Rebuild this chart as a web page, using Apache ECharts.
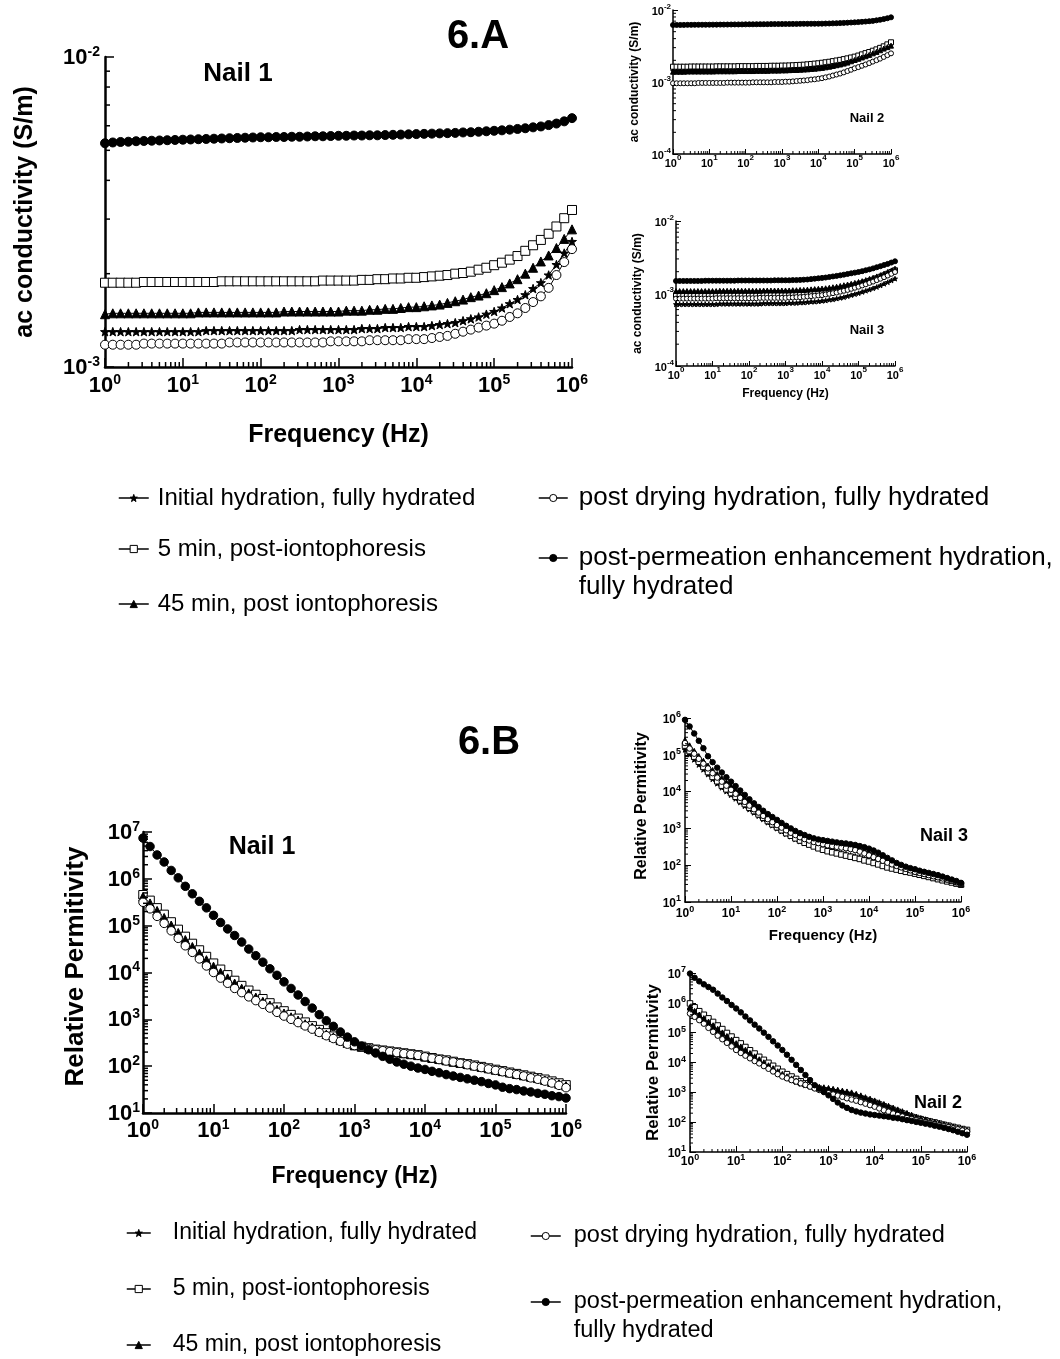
<!DOCTYPE html>
<html><head><meta charset="utf-8">
<script src="https://cdn.jsdelivr.net/npm/echarts@6/dist/echarts.min.js"></script>
<style>html,body{margin:0;padding:0;background:#fff}#c{width:1060px;height:1359px}</style>
</head><body><div id="c"></div>
<script>
// ---------- frequencies (Hz), 10 points per decade ----------
const freq = [1,1.259,1.585,1.995,2.512,3.162,3.981,5.012,6.310,7.943,
10,12.59,15.85,19.95,25.12,31.62,39.81,50.12,63.10,79.43,
100,125.9,158.5,199.5,251.2,316.2,398.1,501.2,631.0,794.3,
1000,1259,1585,1995,2512,3162,3981,5012,6310,7943,
10000,12589,15849,19953,25119,31623,39811,50119,63096,79433,
100000,125893,158489,199526,251189,316228,398107,501187,630957,794328,1000000];

const seriesNames = ['Initial hydration, fully hydrated','5 min, post-iontophoresis','45 min, post iontophoresis','post drying hydration, fully hydrated','post-permeation enhancement hydration, fully hydrated'];

// ---------- 6.A  ac conductivity (S/m) ----------
// Nail 1
const a1Star = [1.30e-3,1.30e-3,1.30e-3,1.30e-3,1.30e-3,1.30e-3,1.30e-3,1.30e-3,1.30e-3,1.30e-3,
1.30e-3,1.30e-3,1.30e-3,1.31e-3,1.31e-3,1.31e-3,1.31e-3,1.31e-3,1.31e-3,1.31e-3,
1.31e-3,1.31e-3,1.31e-3,1.31e-3,1.31e-3,1.32e-3,1.32e-3,1.32e-3,1.32e-3,1.32e-3,
1.32e-3,1.32e-3,1.32e-3,1.33e-3,1.33e-3,1.33e-3,1.34e-3,1.34e-3,1.34e-3,1.35e-3,
1.35e-3,1.35e-3,1.36e-3,1.37e-3,1.38e-3,1.39e-3,1.41e-3,1.43e-3,1.45e-3,1.48e-3,
1.51e-3,1.55e-3,1.60e-3,1.65e-3,1.71e-3,1.79e-3,1.87e-3,1.98e-3,2.14e-3,2.33e-3,2.54e-3];
const a1Square = [1.87e-3,1.87e-3,1.87e-3,1.87e-3,1.87e-3,1.88e-3,1.88e-3,1.88e-3,1.88e-3,1.88e-3,
1.88e-3,1.88e-3,1.88e-3,1.88e-3,1.88e-3,1.89e-3,1.89e-3,1.89e-3,1.89e-3,1.89e-3,
1.89e-3,1.89e-3,1.89e-3,1.89e-3,1.89e-3,1.89e-3,1.89e-3,1.89e-3,1.90e-3,1.90e-3,
1.90e-3,1.90e-3,1.90e-3,1.91e-3,1.91e-3,1.92e-3,1.92e-3,1.93e-3,1.93e-3,1.94e-3,
1.94e-3,1.95e-3,1.96e-3,1.97e-3,1.98e-3,2.00e-3,2.01e-3,2.03e-3,2.06e-3,2.09e-3,
2.13e-3,2.17e-3,2.22e-3,2.28e-3,2.37e-3,2.47e-3,2.57e-3,2.69e-3,2.84e-3,3.02e-3,3.21e-3];
const a1Tri = [1.48e-3,1.49e-3,1.49e-3,1.49e-3,1.49e-3,1.49e-3,1.49e-3,1.49e-3,1.49e-3,1.49e-3,
1.49e-3,1.49e-3,1.50e-3,1.50e-3,1.50e-3,1.50e-3,1.50e-3,1.50e-3,1.50e-3,1.50e-3,
1.50e-3,1.50e-3,1.50e-3,1.51e-3,1.51e-3,1.51e-3,1.51e-3,1.51e-3,1.51e-3,1.51e-3,
1.51e-3,1.52e-3,1.52e-3,1.52e-3,1.53e-3,1.53e-3,1.54e-3,1.54e-3,1.55e-3,1.56e-3,
1.56e-3,1.57e-3,1.58e-3,1.59e-3,1.61e-3,1.63e-3,1.65e-3,1.68e-3,1.70e-3,1.73e-3,
1.77e-3,1.81e-3,1.86e-3,1.92e-3,2.00e-3,2.09e-3,2.19e-3,2.29e-3,2.42e-3,2.59e-3,2.78e-3];
const a1Open = [1.18e-3,1.18e-3,1.18e-3,1.18e-3,1.18e-3,1.19e-3,1.19e-3,1.19e-3,1.19e-3,1.19e-3,
1.19e-3,1.19e-3,1.19e-3,1.19e-3,1.19e-3,1.19e-3,1.20e-3,1.20e-3,1.20e-3,1.20e-3,
1.20e-3,1.20e-3,1.20e-3,1.20e-3,1.20e-3,1.20e-3,1.20e-3,1.20e-3,1.20e-3,1.21e-3,
1.21e-3,1.21e-3,1.21e-3,1.21e-3,1.22e-3,1.22e-3,1.22e-3,1.22e-3,1.22e-3,1.23e-3,
1.23e-3,1.23e-3,1.24e-3,1.25e-3,1.26e-3,1.28e-3,1.30e-3,1.32e-3,1.34e-3,1.36e-3,
1.38e-3,1.41e-3,1.45e-3,1.49e-3,1.55e-3,1.62e-3,1.69e-3,1.80e-3,1.98e-3,2.18e-3,2.40e-3];
const a1Filled = [5.27e-3,5.30e-3,5.32e-3,5.33e-3,5.35e-3,5.36e-3,5.37e-3,5.38e-3,5.39e-3,5.40e-3,
5.41e-3,5.42e-3,5.43e-3,5.44e-3,5.45e-3,5.46e-3,5.47e-3,5.48e-3,5.49e-3,5.50e-3,
5.51e-3,5.51e-3,5.52e-3,5.52e-3,5.53e-3,5.53e-3,5.54e-3,5.55e-3,5.55e-3,5.56e-3,
5.57e-3,5.57e-3,5.58e-3,5.58e-3,5.59e-3,5.59e-3,5.60e-3,5.61e-3,5.62e-3,5.63e-3,
5.64e-3,5.65e-3,5.66e-3,5.67e-3,5.68e-3,5.69e-3,5.71e-3,5.72e-3,5.74e-3,5.76e-3,
5.78e-3,5.80e-3,5.83e-3,5.86e-3,5.89e-3,5.93e-3,5.97e-3,6.03e-3,6.10e-3,6.20e-3,6.35e-3];
// Nail 2
const a2Star = [1.44e-3,1.44e-3,1.44e-3,1.44e-3,1.45e-3,1.45e-3,1.45e-3,1.45e-3,1.45e-3,1.45e-3,
1.46e-3,1.46e-3,1.46e-3,1.46e-3,1.46e-3,1.47e-3,1.47e-3,1.47e-3,1.47e-3,1.47e-3,
1.48e-3,1.48e-3,1.48e-3,1.48e-3,1.49e-3,1.49e-3,1.49e-3,1.50e-3,1.50e-3,1.50e-3,
1.51e-3,1.51e-3,1.52e-3,1.53e-3,1.54e-3,1.55e-3,1.56e-3,1.57e-3,1.59e-3,1.61e-3,
1.63e-3,1.65e-3,1.68e-3,1.71e-3,1.75e-3,1.79e-3,1.84e-3,1.89e-3,1.95e-3,2.02e-3,
2.10e-3,2.18e-3,2.27e-3,2.37e-3,2.48e-3,2.60e-3,2.73e-3,2.87e-3,3.02e-3,3.18e-3,3.35e-3];
const a2Square = [1.63e-3,1.63e-3,1.63e-3,1.63e-3,1.63e-3,1.64e-3,1.64e-3,1.64e-3,1.64e-3,1.64e-3,
1.64e-3,1.64e-3,1.65e-3,1.65e-3,1.65e-3,1.65e-3,1.65e-3,1.65e-3,1.66e-3,1.66e-3,
1.66e-3,1.66e-3,1.66e-3,1.67e-3,1.67e-3,1.67e-3,1.67e-3,1.68e-3,1.68e-3,1.68e-3,
1.69e-3,1.69e-3,1.70e-3,1.71e-3,1.72e-3,1.73e-3,1.74e-3,1.76e-3,1.78e-3,1.80e-3,
1.82e-3,1.85e-3,1.88e-3,1.91e-3,1.95e-3,1.99e-3,2.03e-3,2.08e-3,2.13e-3,2.19e-3,
2.25e-3,2.33e-3,2.42e-3,2.52e-3,2.61e-3,2.72e-3,2.84e-3,2.98e-3,3.13e-3,3.33e-3,3.56e-3];
const a2Tri = [1.39e-3,1.39e-3,1.39e-3,1.39e-3,1.40e-3,1.40e-3,1.40e-3,1.40e-3,1.40e-3,1.40e-3,
1.40e-3,1.40e-3,1.41e-3,1.41e-3,1.41e-3,1.41e-3,1.41e-3,1.41e-3,1.42e-3,1.42e-3,
1.42e-3,1.42e-3,1.42e-3,1.43e-3,1.43e-3,1.43e-3,1.43e-3,1.44e-3,1.44e-3,1.44e-3,
1.45e-3,1.45e-3,1.46e-3,1.47e-3,1.47e-3,1.48e-3,1.49e-3,1.50e-3,1.52e-3,1.53e-3,
1.55e-3,1.57e-3,1.60e-3,1.63e-3,1.67e-3,1.71e-3,1.75e-3,1.80e-3,1.86e-3,1.94e-3,
2.02e-3,2.10e-3,2.19e-3,2.28e-3,2.38e-3,2.50e-3,2.62e-3,2.76e-3,2.91e-3,3.05e-3,3.20e-3];
const a2Open = [0.96e-3,0.96e-3,0.96e-3,0.96e-3,0.96e-3,0.96e-3,0.96e-3,0.97e-3,0.97e-3,0.97e-3,
0.97e-3,0.97e-3,0.97e-3,0.97e-3,0.97e-3,0.98e-3,0.98e-3,0.98e-3,0.98e-3,0.98e-3,
0.98e-3,0.98e-3,0.99e-3,0.99e-3,0.99e-3,0.99e-3,0.99e-3,0.99e-3,1.00e-3,1.00e-3,
1.00e-3,1.01e-3,1.01e-3,1.02e-3,1.03e-3,1.04e-3,1.05e-3,1.06e-3,1.08e-3,1.09e-3,
1.11e-3,1.13e-3,1.16e-3,1.19e-3,1.23e-3,1.27e-3,1.31e-3,1.36e-3,1.42e-3,1.48e-3,
1.55e-3,1.61e-3,1.68e-3,1.75e-3,1.83e-3,1.92e-3,2.01e-3,2.11e-3,2.23e-3,2.36e-3,2.50e-3];
const a2Filled = [6.19e-3,6.20e-3,6.20e-3,6.21e-3,6.22e-3,6.22e-3,6.23e-3,6.23e-3,6.24e-3,6.24e-3,
6.25e-3,6.26e-3,6.26e-3,6.27e-3,6.27e-3,6.28e-3,6.29e-3,6.30e-3,6.30e-3,6.31e-3,
6.32e-3,6.33e-3,6.33e-3,6.34e-3,6.35e-3,6.35e-3,6.36e-3,6.37e-3,6.38e-3,6.38e-3,
6.39e-3,6.40e-3,6.40e-3,6.41e-3,6.41e-3,6.42e-3,6.43e-3,6.43e-3,6.44e-3,6.44e-3,
6.45e-3,6.46e-3,6.48e-3,6.50e-3,6.52e-3,6.55e-3,6.58e-3,6.62e-3,6.66e-3,6.70e-3,
6.74e-3,6.79e-3,6.85e-3,6.91e-3,6.98e-3,7.06e-3,7.18e-3,7.32e-3,7.48e-3,7.68e-3,7.91e-3];
// Nail 3
const a3Star = [0.71e-3,0.71e-3,0.71e-3,0.71e-3,0.71e-3,0.71e-3,0.71e-3,0.71e-3,0.71e-3,0.71e-3,
0.71e-3,0.71e-3,0.72e-3,0.72e-3,0.72e-3,0.72e-3,0.72e-3,0.72e-3,0.72e-3,0.72e-3,
0.72e-3,0.72e-3,0.72e-3,0.72e-3,0.73e-3,0.73e-3,0.73e-3,0.73e-3,0.73e-3,0.73e-3,
0.73e-3,0.74e-3,0.74e-3,0.74e-3,0.75e-3,0.75e-3,0.76e-3,0.77e-3,0.77e-3,0.78e-3,
0.79e-3,0.80e-3,0.82e-3,0.83e-3,0.85e-3,0.87e-3,0.89e-3,0.92e-3,0.95e-3,0.98e-3,
1.01e-3,1.05e-3,1.09e-3,1.13e-3,1.18e-3,1.23e-3,1.29e-3,1.36e-3,1.43e-3,1.51e-3,1.60e-3];
const a3Square = [0.94e-3,0.94e-3,0.94e-3,0.94e-3,0.94e-3,0.94e-3,0.94e-3,0.94e-3,0.94e-3,0.94e-3,
0.94e-3,0.95e-3,0.95e-3,0.95e-3,0.95e-3,0.95e-3,0.95e-3,0.95e-3,0.95e-3,0.95e-3,
0.95e-3,0.95e-3,0.95e-3,0.96e-3,0.96e-3,0.96e-3,0.96e-3,0.96e-3,0.96e-3,0.96e-3,
0.96e-3,0.97e-3,0.97e-3,0.98e-3,0.98e-3,0.99e-3,1.00e-3,1.01e-3,1.02e-3,1.03e-3,
1.04e-3,1.06e-3,1.08e-3,1.10e-3,1.12e-3,1.15e-3,1.18e-3,1.21e-3,1.25e-3,1.29e-3,
1.33e-3,1.38e-3,1.43e-3,1.49e-3,1.55e-3,1.62e-3,1.70e-3,1.78e-3,1.87e-3,1.98e-3,2.09e-3];
const a3Tri = [1.08e-3,1.08e-3,1.08e-3,1.08e-3,1.08e-3,1.08e-3,1.08e-3,1.08e-3,1.08e-3,1.08e-3,
1.08e-3,1.08e-3,1.09e-3,1.09e-3,1.09e-3,1.09e-3,1.09e-3,1.09e-3,1.09e-3,1.09e-3,
1.09e-3,1.09e-3,1.09e-3,1.09e-3,1.10e-3,1.10e-3,1.10e-3,1.10e-3,1.10e-3,1.10e-3,
1.10e-3,1.10e-3,1.11e-3,1.11e-3,1.12e-3,1.12e-3,1.13e-3,1.14e-3,1.15e-3,1.16e-3,
1.17e-3,1.18e-3,1.20e-3,1.22e-3,1.24e-3,1.27e-3,1.30e-3,1.33e-3,1.36e-3,1.40e-3,
1.44e-3,1.48e-3,1.53e-3,1.59e-3,1.65e-3,1.72e-3,1.79e-3,1.88e-3,1.98e-3,2.08e-3,2.20e-3];
const a3Open = [0.85e-3,0.85e-3,0.85e-3,0.85e-3,0.85e-3,0.85e-3,0.85e-3,0.85e-3,0.85e-3,0.85e-3,
0.85e-3,0.86e-3,0.86e-3,0.86e-3,0.86e-3,0.86e-3,0.86e-3,0.86e-3,0.86e-3,0.86e-3,
0.86e-3,0.86e-3,0.86e-3,0.87e-3,0.87e-3,0.87e-3,0.87e-3,0.87e-3,0.87e-3,0.87e-3,
0.87e-3,0.88e-3,0.88e-3,0.89e-3,0.89e-3,0.90e-3,0.91e-3,0.92e-3,0.93e-3,0.94e-3,
0.95e-3,0.97e-3,0.99e-3,1.01e-3,1.03e-3,1.06e-3,1.09e-3,1.12e-3,1.16e-3,1.20e-3,
1.24e-3,1.29e-3,1.34e-3,1.40e-3,1.46e-3,1.53e-3,1.60e-3,1.68e-3,1.77e-3,1.87e-3,1.98e-3];
const a3Filled = [1.49e-3,1.49e-3,1.49e-3,1.49e-3,1.49e-3,1.49e-3,1.49e-3,1.49e-3,1.50e-3,1.50e-3,
1.50e-3,1.50e-3,1.50e-3,1.50e-3,1.50e-3,1.50e-3,1.50e-3,1.51e-3,1.51e-3,1.51e-3,
1.51e-3,1.51e-3,1.51e-3,1.51e-3,1.51e-3,1.51e-3,1.51e-3,1.52e-3,1.52e-3,1.52e-3,
1.52e-3,1.52e-3,1.53e-3,1.53e-3,1.54e-3,1.55e-3,1.56e-3,1.58e-3,1.60e-3,1.62e-3,
1.64e-3,1.66e-3,1.69e-3,1.72e-3,1.75e-3,1.78e-3,1.82e-3,1.86e-3,1.90e-3,1.94e-3,
1.98e-3,2.03e-3,2.09e-3,2.15e-3,2.22e-3,2.30e-3,2.38e-3,2.47e-3,2.56e-3,2.67e-3,2.78e-3];

// ---------- 6.B  relative permittivity ----------
// Nail 1
const b1Star = [3.80e5,2.69e5,1.86e5,1.32e5,9.12e4,6.31e4,4.47e4,3.16e4,2.29e4,1.66e4,
1.20e4,8910,6920,5370,4170,3390,2750,2290,1910,1550,
1290,1070,912,776,661,562,479,417,363,316,
275,257,240,224,214,204,195,186,178,170,
158,148,138,132,123,115,107,102,95.5,89.1,
83.2,77.6,72.4,67.6,63.1,57.5,53.7,49.0,44.7,40.7,37.2];
const b1Square = [4.57e5,3.47e5,2.40e5,1.74e5,1.20e5,8.32e4,5.89e4,4.17e4,3.02e4,2.19e4,
1.58e4,1.17e4,8910,6760,5250,4170,3390,2750,2240,1820,
1510,1260,1050,871,724,603,513,437,372,324,
282,263,245,229,219,209,200,191,182,174,
162,151,141,135,126,117,112,105,97.7,91.2,
85.1,79.4,74.1,69.2,64.6,60.3,56.2,52.5,47.9,43.7,39.8];
const b1Tri = [4.17e5,3.02e5,2.09e5,1.48e5,1.02e5,7.08e4,5.01e4,3.55e4,2.57e4,1.86e4,
1.35e4,1.00e4,7590,5890,4570,3630,2950,2400,2000,1620,
1350,1120,955,794,676,562,479,417,355,309,
275,257,240,224,214,204,195,186,178,170,
158,148,141,132,123,117,110,102,95.5,89.1,
83.2,77.6,72.4,67.6,63.1,58.9,55.0,50.1,45.7,41.7,38.0];
const b1Open = [3.16e5,2.29e5,1.58e5,1.12e5,7.76e4,5.37e4,3.72e4,2.69e4,1.95e4,1.38e4,
1.00e4,7590,5890,4570,3720,3020,2510,2090,1740,1410,
1175,1000,851,724,617,525,447,389,339,295,
275,257,240,224,214,204,195,186,178,170,
158,148,138,129,123,115,107,100,93.3,87.1,
81.3,75.9,70.8,66.1,61.7,56.2,52.5,47.9,43.7,38.9,34.7];
const b1Filled = [7.41e6,4.90e6,3.24e6,2.29e6,1.51e6,1.05e6,6.92e5,4.79e5,3.31e5,2.40e5,
1.66e5,1.17e5,8.51e4,6.17e4,4.47e4,3.16e4,2.29e4,1.66e4,1.20e4,8710,
6310,4570,3310,2400,1740,1260,933,708,537,417,
331,269,224,191,162,141,123,110,100,91.2,
85.1,77.6,72.4,66.1,61.7,57.5,53.7,50.1,46.8,42.7,
39.8,35.5,33.1,31.6,29.5,28.2,26.3,25.1,23.4,22.4,20.9];
// Nail 3
const b3Star = [1.38e5,1.02e5,7.41e4,5.37e4,3.98e4,2.95e4,2.19e4,1.66e4,1.29e4,1.02e4,
8130,6460,5130,4070,3310,2690,2190,1780,1450,1200,
1000,832,708,603,513,447,398,363,331,302,
282,263,245,229,214,200,186,174,162,151,
138,126,115,105,95.5,87.1,81.3,75.9,70.8,64.6,
58.9,55.0,51.3,47.9,44.7,41.7,38.9,37.2,34.7,32.4,30.2];
const b3Square = [1.78e5,1.26e5,8.91e4,6.46e4,4.68e4,3.39e4,2.51e4,1.91e4,1.45e4,1.15e4,
9120,7240,5750,4570,3630,2950,2400,1950,1580,1290,
1070,891,741,631,537,468,407,363,324,288,
263,240,224,209,195,182,170,158,148,135,
126,115,105,95.5,87.1,81.3,75.9,70.8,66.1,63.1,
58.9,55.0,51.3,47.9,44.7,41.7,38.9,36.3,33.9,31.6,29.5];
const b3Tri = [2.51e5,1.78e5,1.26e5,9.12e4,6.76e4,5.01e4,3.80e4,2.95e4,2.29e4,1.78e4,
1.41e4,1.10e4,8510,6610,5130,4070,3240,2570,2090,1700,
1410,1175,1000,851,741,646,575,525,479,447,
417,398,380,363,347,331,316,295,275,251,
224,195,170,148,129,112,100,91.2,83.2,75.9,
69.2,64.6,60.3,56.2,52.5,49.0,45.7,41.7,38.0,34.7,31.6];
const b3Open = [2.09e5,1.48e5,1.07e5,7.76e4,5.75e4,4.27e4,3.16e4,2.40e4,1.86e4,1.45e4,
1.12e4,8710,6760,5250,4170,3310,2690,2190,1780,1480,
1230,1050,891,759,661,575,513,468,427,398,
372,347,331,316,302,288,275,257,234,209,
186,166,148,132,117,105,95.5,87.1,79.4,72.4,
66.1,61.7,57.5,53.7,50.1,46.8,43.7,40.7,38.0,34.7,31.6];
const b3Filled = [8.91e5,5.89e5,3.80e5,2.40e5,1.51e5,9.12e4,6.31e4,4.47e4,3.31e4,2.45e4,
1.86e4,1.41e4,1.07e4,8130,6170,4790,3800,3020,2450,2040,
1700,1410,1175,1000,851,741,661,589,537,501,
479,457,437,417,398,389,372,355,331,309,
282,251,219,186,158,135,115,102,91.2,83.2,
77.6,70.8,66.1,61.7,57.5,53.7,49.0,44.7,40.7,37.2,33.1];
// Nail 2
const b2Star = [6.31e5,4.68e5,3.55e5,2.69e5,2.04e5,1.55e5,1.17e5,8.91e4,6.76e4,5.13e4,
3.89e4,3.02e4,2.34e4,1.82e4,1.41e4,1.12e4,8910,7080,5620,4570,
3720,3090,2630,2240,1950,1740,1580,1480,1380,1320,
1260,1175,1100,1020,955,891,794,708,617,550,
479,417,363,316,275,240,214,186,166,148,
132,120,110,100,91.2,83.2,75.9,69.2,63.1,57.5,52.5];
const b2Square = [9.55e5,7.08e5,5.25e5,3.98e5,3.02e5,2.29e5,1.74e5,1.32e5,9.77e4,7.41e4,
5.62e4,4.37e4,3.31e4,2.57e4,2.00e4,1.55e4,1.23e4,9770,7760,6170,
4900,4070,3390,2820,2340,2000,1740,1510,1320,1175,
1050,955,891,832,776,724,676,617,562,501,
447,389,339,295,257,224,195,170,151,138,
126,115,105,97.7,89.1,81.3,75.9,69.2,64.6,58.9,55.0];
const b2Tri = [7.08e5,5.25e5,3.98e5,3.02e5,2.29e5,1.74e5,1.32e5,1.00e5,7.59e4,5.75e4,
4.37e4,3.39e4,2.63e4,2.04e4,1.58e4,1.26e4,1.00e4,7940,6310,5010,
4070,3390,2880,2450,2140,1910,1740,1620,1510,1450,
1380,1290,1200,1120,1050,977,871,776,676,603,
525,457,398,347,302,263,229,200,174,151,
135,123,112,102,93.3,85.1,77.6,70.8,64.6,58.9,53.7];
const b2Open = [4.37e5,3.39e5,2.63e5,2.00e5,1.45e5,1.07e5,7.94e4,6.03e4,4.57e4,3.47e4,
2.63e4,2.09e4,1.70e4,1.38e4,1.12e4,9330,7590,6170,5010,4070,
3390,2950,2570,2290,2000,1780,1550,1350,1200,1050,
933,851,776,708,631,575,525,468,417,372,
331,288,251,224,195,174,155,138,126,115,
105,97.7,91.2,83.2,77.6,72.4,67.6,61.7,57.5,52.5,49.0];
const b2Filled = [9.55e6,6.92e6,5.25e6,4.17e6,3.39e6,2.75e6,2.04e6,1.51e6,1.15e6,8.51e5,
6.46e5,4.79e5,3.47e5,2.57e5,1.86e5,1.38e5,1.00e5,7.24e4,5.13e4,3.72e4,
2.63e4,1.82e4,1.23e4,8320,5620,3800,2570,1740,1320,1020,
794,603,457,363,302,257,229,209,195,182,
174,166,158,151,141,135,126,117,110,102,
95.5,89.1,83.2,75.9,70.8,64.6,58.9,53.7,47.9,42.7,38.0];

// ---------- axis ticks ----------
const xDecades = [1,10,100,1000,10000,100000];
const minorFactors = [2,3,4,5,6,7,8,9];
const condDecadesA1 = [0.001];
const condDecadesSmall = [0.0001,0.001];
const permDecades7 = [10,100,1000,10000,100000,1000000];
const permDecades6 = [10,100,1000,10000,100000];

// ---------- styling ----------
const FONT = '"Liberation Sans", Arial, sans-serif';
const STAR = 'path://M0,-10L2.35,-3.24L9.51,-3.09L3.8,1.24L5.88,8.09L0,4L-5.88,8.09L-3.8,1.24L-9.51,-3.09L-2.35,-3.24Z';
const markers = [
  {symbol: STAR, fill: '#000'},
  {symbol: 'rect', fill: '#fff'},
  {symbol: 'triangle', fill: '#000'},
  {symbol: 'circle', fill: '#fff'},
  {symbol: 'circle', fill: '#000'}
];

const grids = [
  {left: 105, top: 57, width: 467, height: 310},   // 0 A Nail1
  {left: 673, top: 10, width: 218, height: 144},   // 1 A Nail2
  {left: 676, top: 221, width: 219, height: 145},  // 2 A Nail3
  {left: 143, top: 832, width: 423, height: 281},  // 3 B Nail1
  {left: 685, top: 718, width: 276, height: 184},  // 4 B Nail3
  {left: 690, top: 973, width: 277, height: 179}   // 5 B Nail2
].map(g => Object.assign({outerBoundsMode: 'none', containLabel: false}, g));

const sizes = {
  main:  {base: 22, sup: 14, lh: 24, lw: 2.5, tick: 9, minor: 5, tw: 1.5},
  smA:   {base: 11, sup: 8,  lh: 15, lw: 1.5, tick: 5, minor: 3, tw: 1},
  smB:   {base: 12, sup: 9,  lh: 15, lw: 1.5, tick: 6, minor: 3, tw: 1}
};

function supFmt(v) {
  const e = Math.round(Math.log10(v));
  return '{b|10}{s|' + e + '}';
}
function rich(s) {
  return {
    b: {fontSize: s.base, fontWeight: 'bold', fontFamily: FONT, color: '#000', lineHeight: s.lh, verticalAlign: 'bottom'},
    s: {fontSize: s.sup, fontWeight: 'bold', fontFamily: FONT, color: '#000', lineHeight: s.sup, verticalAlign: 'top'}
  };
}
function xAxis(g, s, margin, name, nameSize, nameGap) {
  return {
    type: 'log', logBase: 10, gridIndex: g, min: 1, max: 1e6, splitNumber: 6,
    axisLine: {show: true, onZero: false, lineStyle: {color: '#000', width: s.lw}},
    axisTick: {show: true, inside: true, length: s.tick, lineStyle: {color: '#000', width: s.tw}},
    splitLine: {show: false}, minorTick: {show: false},
    axisLabel: {show: true, formatter: supFmt, margin: margin, rich: rich(s), showMinLabel: true, showMaxLabel: true, hideOverlap: false},
    name: name || '', nameLocation: 'middle', nameGap: nameGap || 0, nameMoveOverlap: false,
    nameTextStyle: {fontSize: nameSize || 12, fontWeight: 'bold', fontFamily: FONT, color: '#000'}
  };
}
function yAxis(g, s, min, max, split, margin, name, nameSize, nameGap, namePad) {
  return {
    type: 'log', logBase: 10, gridIndex: g, min: min, max: max, splitNumber: split,
    axisLine: {show: true, onZero: false, lineStyle: {color: '#000', width: s.lw}},
    axisTick: {show: true, inside: true, length: s.tick, lineStyle: {color: '#000', width: s.tw}},
    splitLine: {show: false}, minorTick: {show: false},
    axisLabel: {show: true, formatter: supFmt, margin: margin, rich: rich(s), showMinLabel: true, showMaxLabel: true, hideOverlap: false},
    name: name, nameLocation: 'middle', nameGap: nameGap, nameRotate: 90, nameMoveOverlap: false,
    nameTextStyle: {fontSize: nameSize, fontWeight: 'bold', fontFamily: FONT, color: '#000', padding: namePad || 0}
  };
}
function panelSeries(g, arrays, symSize) {
  return arrays.map((arr, i) => ({
    type: 'line', name: seriesNames[i], xAxisIndex: g, yAxisIndex: g,
    data: freq.map((f, k) => [f, arr[k]]),
    symbol: markers[i].symbol, symbolSize: symSize, symbolKeepAspect: true, showSymbol: true,
    itemStyle: {color: markers[i].fill, borderColor: '#000', borderWidth: 1},
    lineStyle: {color: '#000', width: 1},
    emphasis: {disabled: true}, silent: true, animation: false
  }));
}
function minorTicks(g, xMin, yMin, yDecades, s) {
  const data = [];
  xDecades.forEach(d => minorFactors.forEach(f => data.push([d * f, yMin, 0])));
  yDecades.forEach(d => minorFactors.forEach(f => data.push([xMin, d * f, 1])));
  return {
    type: 'custom', name: 'ticks' + g, xAxisIndex: g, yAxisIndex: g, silent: true, clip: false, z: 5,
    dimensions: ['x', 'y', 'k'], encode: {x: 0, y: 1}, data: data, animation: false,
    renderItem: function (params, api) {
      const p = api.coord([api.value(0), api.value(1)]);
      const horiz = api.value(2) === 0;
      return {
        type: 'line',
        shape: horiz ? {x1: p[0], y1: p[1], x2: p[0], y2: p[1] - s.minor} : {x1: p[0], y1: p[1], x2: p[0] + s.minor, y2: p[1]},
        style: {stroke: '#000', lineWidth: s.tw}
      };
    }
  };
}
// legend entry; the two-line entry carries an empty first line so the icon sits on its first text line
function legendItem(i, left, rowY, fs, lh, iw, pad, twoLine) {
  return {
    show: true, data: [seriesNames[i]], left: left, top: twoLine ? rowY - 1.5 * lh : rowY - lh / 2,
    orient: 'vertical', itemWidth: iw, itemHeight: 9, padding: 0, selectedMode: false,
    itemStyle: {borderColor: '#000', borderWidth: 1},
    lineStyle: {width: 1.5},
    formatter: twoLine ? ' \npost-permeation enhancement hydration,\nfully hydrated' : '{name}',
    textStyle: {fontSize: fs, lineHeight: lh, color: '#000', fontFamily: FONT, padding: [0, 0, 0, pad]}
  };
}
function label(text, x, y, size) {
  return {type: 'text', x: x, y: y, silent: true, style: {text: text, fontSize: size, fontWeight: 'bold', fontFamily: FONT, fill: '#000', align: 'center', verticalAlign: 'middle', textAlign: 'center', textVerticalAlign: 'middle'}};
}

const series = [].concat(
  panelSeries(0, [a1Star, a1Square, a1Tri, a1Open, a1Filled], 9),
  panelSeries(1, [a2Star, a2Square, a2Tri, a2Open, a2Filled], 5),
  panelSeries(2, [a3Star, a3Square, a3Tri, a3Open, a3Filled], 5),
  panelSeries(3, [b1Star, b1Square, b1Tri, b1Open, b1Filled], 8.5),
  panelSeries(4, [b3Star, b3Square, b3Tri, b3Open, b3Filled], 5.5),
  panelSeries(5, [b2Star, b2Square, b2Tri, b2Open, b2Filled], 5.5),
  [minorTicks(0, 1, 0.001, condDecadesA1, sizes.main),
   minorTicks(1, 1, 0.0001, condDecadesSmall, sizes.smA),
   minorTicks(2, 1, 0.0001, condDecadesSmall, sizes.smA),
   minorTicks(3, 1, 10, permDecades7, sizes.main),
   minorTicks(4, 1, 10, permDecades6, sizes.smB),
   minorTicks(5, 1, 10, permDecades7, sizes.smB)]
);

const option = {
  backgroundColor: '#fff',
  animation: false,
  grid: grids,
  xAxis: [
    xAxis(0, sizes.main, 6, 'Frequency (Hz)', 25, 56),
    xAxis(1, sizes.smA, 0),
    xAxis(2, sizes.smA, 0, 'Frequency (Hz)', 12, 22),
    xAxis(3, sizes.main, 5, 'Frequency (Hz)', 23, 52),
    xAxis(4, sizes.smB, 3, 'Frequency (Hz)', 15, 26),
    xAxis(5, sizes.smB, 1)
  ],
  yAxis: [
    yAxis(0, sizes.main, 0.001, 0.01, 1, 5, 'ac conductivity (S/m)', 25, 67),
    yAxis(1, sizes.smA, 0.0001, 0.01, 2, 2, 'ac conductivity (S/m)', 12, 32),
    yAxis(2, sizes.smA, 0.0001, 0.01, 2, 2, 'ac conductivity (S/m)', 12, 32),
    yAxis(3, sizes.main, 10, 1e7, 6, 3, 'Relative Permitivity', 26, 54, [0, 0, 0, 12]),
    yAxis(4, sizes.smB, 10, 1e6, 5, 4, 'Relative Permitivity', 16, 35, [0, 0, 0, 8]),
    yAxis(5, sizes.smB, 10, 1e7, 6, 4, 'Relative Permitivity', 17, 28)
  ],
  legend: [
    legendItem(0, 118, 498, 24, 29, 30, 4),
    legendItem(1, 118, 549, 24, 29, 30, 4),
    legendItem(2, 118, 604, 24, 29, 30, 4),
    legendItem(3, 538, 498, 26, 29, 29, 6),
    legendItem(4, 538, 558, 26, 29, 29, 6, true),
    legendItem(0, 126, 1233, 23, 29, 24, 17),
    legendItem(1, 126, 1289, 23, 29, 24, 17),
    legendItem(2, 126, 1345, 23, 29, 24, 17),
    legendItem(3, 530, 1236, 23.5, 29, 30, 8),
    legendItem(4, 530, 1302, 23.5, 29, 30, 8, true)
  ],
  graphic: [
    label('6.A', 478, 37, 40),
    label('Nail 1', 238, 74, 26),
    label('Nail 2', 867, 118, 13),
    label('Nail 3', 867, 330, 13),
    label('6.B', 489, 743, 40),
    label('Nail 1', 262, 847, 25),
    label('Nail 3', 944, 836, 18),
    label('Nail 2', 938, 1103, 18)
  ],
  series: series
};

const chart = echarts.init(document.getElementById('c'), null, {renderer: 'canvas'});
chart.setOption(option);
</script>
</body></html>
